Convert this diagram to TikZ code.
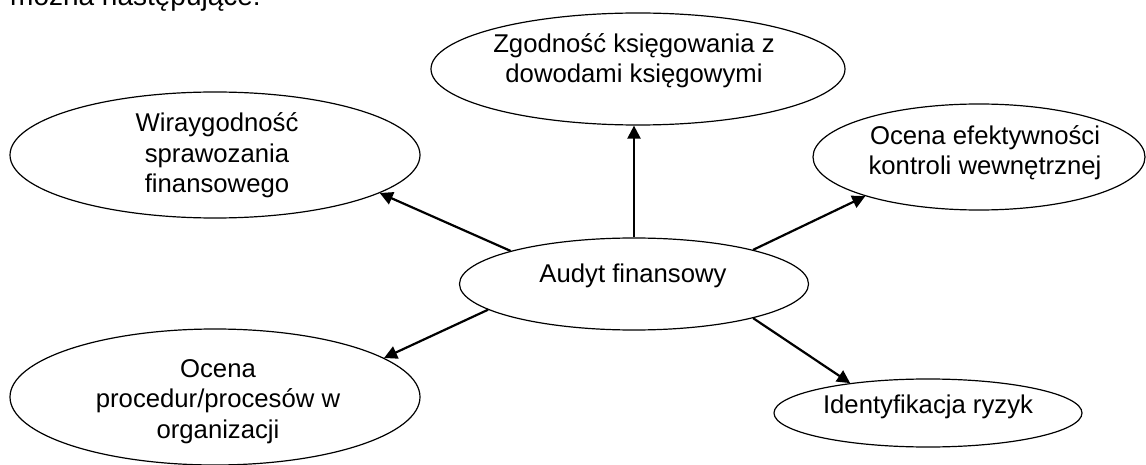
\documentclass[tikz,border=0pt]{standalone}
\usepackage{fontspec}
\setmainfont{Liberation Sans}
\usetikzlibrary{shapes.geometric,arrows.meta}
\begin{document}
\begin{tikzpicture}[x=1pt,y=-1pt,
  oval/.style={ellipse,draw,line width=1.2pt,inner sep=0pt},
  lbl/.style={align=center,inner sep=0pt,anchor=base,font=\fontsize{25.7}{30.5}\selectfont},
  conn/.style={line width=2.2pt,-{Triangle[length=13pt,width=13pt]}}]
\useasboundingbox (0,0) rectangle (1146,465);
\clip (0,0) rectangle (1146,465);
\node[anchor=base west,inner sep=0pt,font=\fontsize{28}{34}\selectfont] (intro) at (10,6) {można następujące:};
% ellipses
\node[oval,minimum width=414pt,minimum height=112pt] (zg) at (638,69) {};
\node[oval,minimum width=410pt,minimum height=126pt] (wi) at (215,155) {};
\node[oval,minimum width=332pt,minimum height=106pt] (oc) at (979,157) {};
\node[oval,minimum width=349pt,minimum height=92pt] (au) at (634,284) {};
\node[oval,minimum width=410pt,minimum height=136pt] (op) at (215,397) {};
\node[oval,minimum width=308pt,minimum height=68pt] (id) at (928,413) {};
% texts (anchored at the baseline of the last line)
\node[lbl] (tzg) at (634,83) {Zgodność księgowania z\\dowodami księgowymi};
\node[lbl] (twi) at (217,193) {Wiraygodność\\sprawozania\\finansowego};
\node[lbl] (toc) at (985,175) {Ocena efektywności\\kontroli wewnętrznej};
\node[lbl] (tau) at (633,282) {Audyt finansowy};
\node[lbl] (top) at (218,438) {Ocena\\procedur/procesów w\\organizacji};
\node[lbl] (tid) at (928,413) {Identyfikacja ryzyk};
% connectors
\draw[conn] (au.north) -- (au.north |- zg.south);
\draw[conn] (au.165.7) -- (wi.347.7);
\draw[conn] (au.190.2) -- (op.13.1);
\draw[conn] (au.16.5) -- (oc.199.5);
\draw[conn] (au.344.7) -- (id.159.8);
\end{tikzpicture}
\end{document}
